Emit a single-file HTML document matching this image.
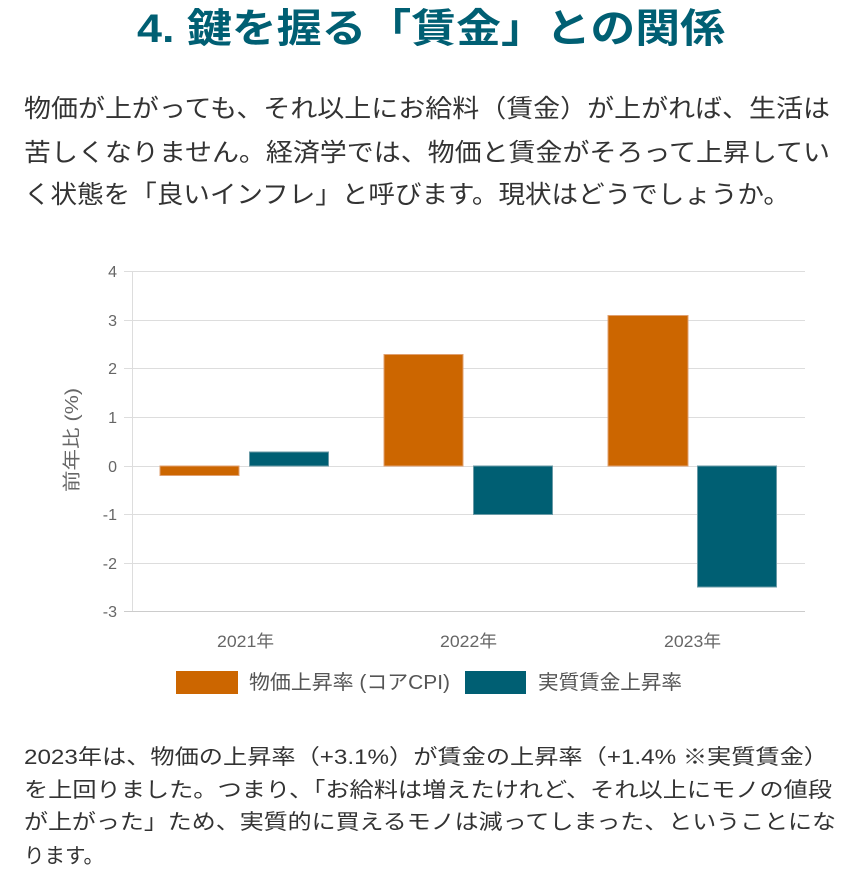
<!DOCTYPE html>
<html><head><meta charset="utf-8"><style>
body{margin:0;width:860px;height:886px;background:#fff;overflow:hidden}
svg{position:absolute;left:0;top:0}
</style></head><body>
<svg width="860" height="886" font-family="Liberation Sans, Noto Sans CJK JP, sans-serif">
<text x="137" y="42" font-size="40" font-weight="bold" fill="#005f73" textLength="588" lengthAdjust="spacingAndGlyphs">4. 鍵を握る「賃金」との関係</text>
<g font-size="25" fill="#333">
<text x="24" y="117" textLength="806" lengthAdjust="spacingAndGlyphs">物価が上がっても、それ以上にお給料（賃金）が上がれば、生活は</text>
<text x="24" y="161" textLength="806" lengthAdjust="spacingAndGlyphs">苦しくなりません。経済学では、物価と賃金がそろって上昇してい</text>
<text x="24" y="203" textLength="766" lengthAdjust="spacingAndGlyphs">く状態を「良いインフレ」と呼びます。現状はどうでしょうか。</text>
</g>
<g stroke="#ddd" stroke-width="1">
<line x1="124" y1="271.5" x2="805" y2="271.5"/><line x1="124" y1="320.5" x2="805" y2="320.5"/>
<line x1="124" y1="368.5" x2="805" y2="368.5"/><line x1="124" y1="417.5" x2="805" y2="417.5"/>
<line x1="124" y1="466.5" x2="805" y2="466.5"/><line x1="124" y1="514.5" x2="805" y2="514.5"/>
<line x1="124" y1="563.5" x2="805" y2="563.5"/>
<line x1="132.5" y1="271" x2="132.5" y2="611"/>
</g>
<line x1="124" y1="611.5" x2="805" y2="611.5" stroke="#ccc"/>
<g font-size="16" fill="#666" text-anchor="end">
<text x="117" y="277">4</text><text x="117" y="326">3</text><text x="117" y="374">2</text><text x="117" y="423">1</text>
<text x="117" y="472">0</text><text x="117" y="520">-1</text><text x="117" y="569">-2</text><text x="117" y="617">-3</text>
</g>
<text transform="translate(78,440) rotate(-90)" font-size="18" fill="#666" text-anchor="middle" textLength="104" lengthAdjust="spacingAndGlyphs">前年比 (%)</text>
<g font-size="17" fill="#666">
<text x="217" y="647" textLength="57" lengthAdjust="spacingAndGlyphs">2021年</text>
<text x="440" y="647" textLength="57" lengthAdjust="spacingAndGlyphs">2022年</text>
<text x="664" y="647" textLength="57" lengthAdjust="spacingAndGlyphs">2023年</text>
</g>
<g fill="#cc6600" stroke="#e0a070" stroke-width="1">
<rect x="160" y="466" width="79" height="9.5"/>
<rect x="384" y="354.5" width="79" height="111.5"/>
<rect x="608" y="315.5" width="80" height="150.5"/>
</g>
<g fill="#005f73" stroke="#6a9aa6" stroke-width="1">
<rect x="249.5" y="452" width="79" height="14"/>
<rect x="473.5" y="466" width="79" height="48.5"/>
<rect x="697.5" y="466" width="79" height="121"/>
</g>
<rect x="176" y="671" width="62" height="23" fill="#cc6600"/>
<text x="249" y="689" font-size="20" fill="#555" textLength="201" lengthAdjust="spacingAndGlyphs">物価上昇率 (コアCPI)</text>
<rect x="465" y="671" width="61" height="23" fill="#005f73"/>
<text x="538" y="689" font-size="20" fill="#555" textLength="144" lengthAdjust="spacingAndGlyphs">実質賃金上昇率</text>
<g font-size="21" fill="#333">
<text x="24" y="764" textLength="804" lengthAdjust="spacingAndGlyphs">2023年は、物価の上昇率（+3.1%）が賃金の上昇率（+1.4% ※実質賃金）</text>
<text x="24" y="797" textLength="808" lengthAdjust="spacingAndGlyphs">を上回りました。つまり、「お給料は増えたけれど、それ以上にモノの値段</text>
<text x="24" y="829" textLength="812" lengthAdjust="spacingAndGlyphs">が上がった」ため、実質的に買えるモノは減ってしまった、ということにな</text>
<text x="24" y="863" textLength="80" lengthAdjust="spacingAndGlyphs">ります。</text>
</g>
</svg>
</body></html>
